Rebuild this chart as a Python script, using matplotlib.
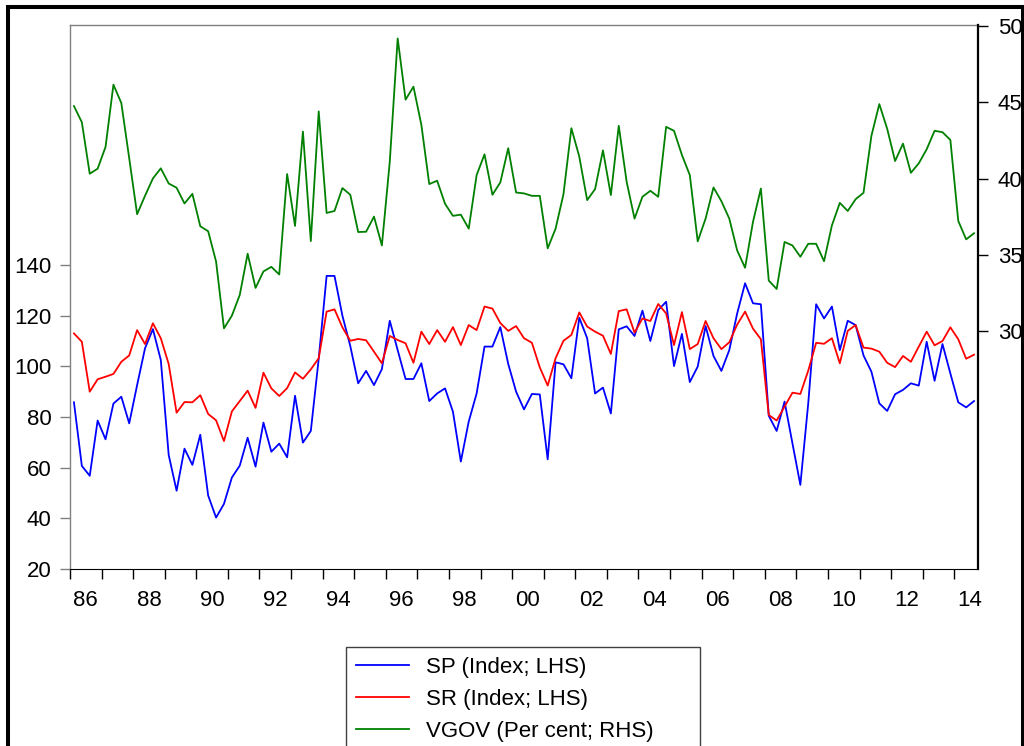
# Recreates the SP / SR / VGOV quarterly chart (EViews style, dual axis)

import numpy as np
import pandas as pd
from matplotlib import pyplot as plt
from matplotlib.patches import Rectangle

plt.rcParams['font.family'] = ['Liberation Sans', 'DejaVu Sans']

# Quarterly observations, 1986Q1 - 2014Q3

quarters = pd.period_range('1986Q1', '2014Q3', freq='Q')

sp = [85.8, 60.7, 56.8, 78.6, 71.2, 85.3, 88.0, 77.5, 92.6, 107.1,
      114.7, 102.5, 65.0, 50.9, 67.5, 61.1, 73.0, 49.0, 40.3, 45.7,
      56.1, 60.8, 71.8, 60.4, 77.8, 66.3, 69.5, 64.1, 88.4, 69.9,
      74.5, 103.0, 135.7, 135.7, 120.0, 108.0, 93.3, 98.2, 92.6, 98.9,
      118.0, 106.4, 95.0, 95.0, 101.2, 86.3, 89.3, 91.3, 82.1, 62.4,
      78.2, 89.3, 107.8, 107.8, 115.5, 101.0, 90.0, 83.0, 89.1, 88.9,
      63.3, 101.6, 100.8, 95.3, 119.2, 111.1, 89.3, 91.6, 81.4, 114.6,
      115.8, 112.0, 122.0, 110.0, 122.2, 125.5, 100.1, 112.8, 93.8, 99.9,
      115.9, 104.1, 98.2, 106.4, 120.9, 132.8, 124.9, 124.5, 80.5, 74.5,
      86.1, 69.6, 53.2, 85.4, 124.5, 118.9, 123.6, 106.4, 118.0, 116.3,
      104.3, 97.9, 85.4, 82.4, 89.0, 90.7, 93.3, 92.4, 109.7, 94.3,
      108.8, 97.2, 85.8, 83.8, 86.3]

sr = [113.0, 109.7, 90.0, 94.9, 95.9, 97.0, 101.8, 104.3, 114.3, 108.8,
      117.0, 111.1, 100.9, 81.7, 85.9, 85.8, 88.6, 81.2, 78.7, 70.5,
      82.2, 86.3, 90.4, 83.6, 97.5, 91.3, 88.3, 91.4, 97.6, 95.1,
      98.8, 103.2, 121.6, 122.5, 115.4, 110.1, 110.8, 110.3, 105.8, 101.2,
      112.0, 110.4, 109.1, 101.4, 113.7, 108.8, 114.3, 109.7, 115.5, 108.4,
      116.3, 114.3, 123.6, 122.8, 117.1, 114.0, 115.9, 111.1, 109.3, 99.6,
      92.4, 103.2, 110.1, 112.4, 121.3, 115.7, 113.7, 112.1, 104.9, 121.8,
      122.5, 113.3, 118.9, 117.9, 124.6, 120.9, 108.4, 121.4, 106.8, 108.8,
      117.9, 111.1, 106.8, 109.5, 116.5, 121.6, 114.9, 110.7, 80.8, 78.6,
      84.1, 89.6, 89.1, 98.3, 109.3, 108.9, 111.1, 101.2, 114.0, 116.3,
      107.4, 107.0, 105.8, 101.4, 99.7, 104.1, 101.8, 107.8, 113.7, 108.3,
      110.0, 115.4, 110.7, 103.0, 104.6]

vgov = [44.76, 43.70, 40.33, 40.66, 42.08, 46.16, 44.96, 41.34, 37.68, 38.88,
        40.02, 40.68, 39.69, 39.41, 38.38, 39.01, 36.89, 36.56, 34.58, 30.20,
        31.03, 32.39, 35.09, 32.85, 33.93, 34.23, 33.73, 40.31, 36.91, 43.09,
        35.92, 44.41, 37.76, 37.89, 39.39, 38.95, 36.51, 36.53, 37.52, 35.63,
        41.12, 49.19, 45.18, 46.03, 43.53, 39.65, 39.87, 38.36, 37.57, 37.65,
        36.73, 40.24, 41.60, 38.95, 39.76, 42.00, 39.10, 39.04, 38.88, 38.88,
        35.44, 36.73, 38.99, 43.31, 41.45, 38.60, 39.32, 41.86, 38.93, 43.47,
        39.80, 37.39, 38.82, 39.21, 38.82, 43.40, 43.14, 41.56, 40.24, 35.90,
        37.39, 39.43, 38.53, 37.39, 35.30, 34.17, 37.17, 39.36, 33.33, 32.78,
        35.86, 35.63, 34.89, 35.74, 35.74, 34.60, 36.95, 38.42, 37.89, 38.66,
        39.08, 42.81, 44.89, 43.27, 41.16, 42.30, 40.39, 41.01, 41.93, 43.14,
        43.05, 42.54, 37.24, 36.03, 36.43]

labels = ['SP (Index; LHS)', 'SR (Index; LHS)', 'VGOV (Per cent; RHS)']
year_ticks = list(range(1986, 2015))
year_labels = ['%02d' % (y % 100) for y in year_ticks[::2]]

# each quarter sits in the middle of its slot on a year axis
t = np.array([p.year + (p.quarter - 0.5) / 4 for p in quarters])

# Figure and axes

fig = plt.figure(figsize=(10.24, 7.46), dpi=100)
W, H = 1024, 746
ax = fig.add_axes([70 / W, 1 - 569 / H, (978 - 70) / W, (569 - 25) / H])
ax2 = ax.twinx()

ax.plot(t, sp, color='#0000ff', lw=1.3, label=labels[0])
ax.plot(t, sr, color='#ff0000', lw=1.3, label=labels[1])
ax2.plot(t, vgov, color='#008000', lw=1.3, label=labels[2])

ax.set_xlim(1986, 2014.75)
ax.set_ylim(20, 234.75)
ax2.set_ylim(14.44, 50.07)

fs = 16

ax.set_xticks(year_ticks)
ax.set_xticklabels([])
ax.set_xticks([y + 0.5 for y in year_ticks[::2]], minor=True)
ax.set_xticklabels(year_labels, minor=True)
ax.tick_params(axis='x', which='major', direction='out', length=7.2, width=1, color='black')
ax.tick_params(axis='x', which='minor', length=0, pad=15, labelsize=fs)

ax.set_yticks(range(20, 141, 20))
ax.tick_params(axis='y', direction='out', length=7.2, width=1, color='#808080', pad=6, labelsize=fs)

ax2.set_yticks(range(30, 51, 5))
ax2.tick_params(axis='y', direction='out', length=7.2, width=1, color='black', pad=7, labelsize=fs)

for s in ['left', 'top']:
    ax.spines[s].set_color('#808080')
    ax.spines[s].set_linewidth(1)
ax.spines['bottom'].set_color('black')
ax.spines['right'].set_visible(False)
for s in ['left', 'top', 'bottom']:
    ax2.spines[s].set_visible(False)
ax2.spines['right'].set_color('black')
ax2.spines['right'].set_linewidth(1.6)

# Legend box under the plot

fig.legend(loc='upper left', bbox_to_anchor=(346 / W, 1 - 647 / H, 354 / W, 0),
           mode='expand', borderaxespad=0, fontsize=fs, frameon=True, fancybox=False,
           edgecolor='#404040', framealpha=1, handlelength=2.4, handletextpad=0.75,
           borderpad=0.45, labelspacing=0.5)

# Black frame round the whole picture

fig.patches.append(Rectangle((8 / W, -0.05), (1022.5 - 8) / W, 1.05 - 7 / H,
                             transform=fig.transFigure, fill=False, lw=2.9,
                             edgecolor='black'))

plt.savefig('out.png', dpi=100)
